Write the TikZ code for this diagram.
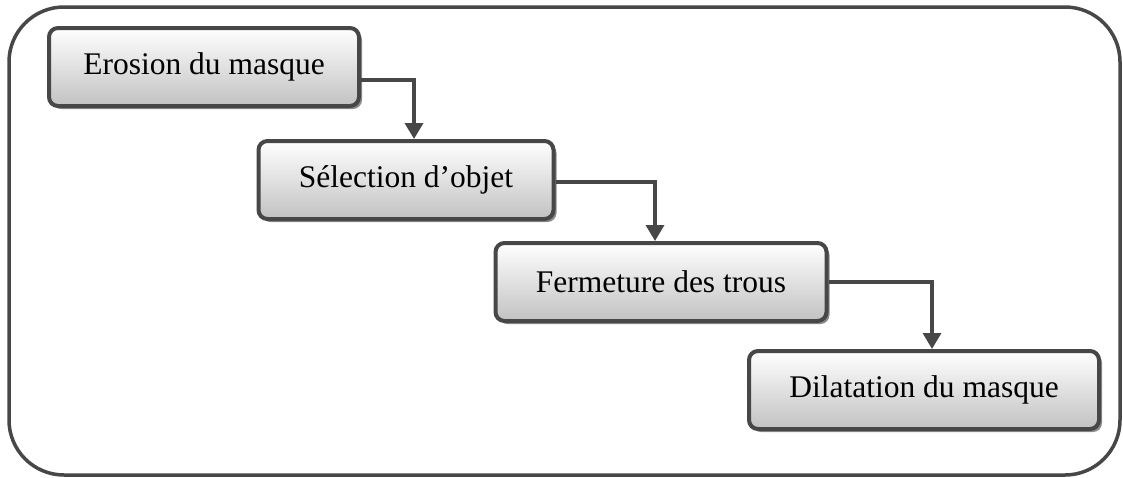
\documentclass[tikz,border=0pt]{standalone}
\usepackage{fontspec}
\setmainfont{Liberation Serif}
\usetikzlibrary{arrows.meta,shadows}

\begin{document}
\begin{tikzpicture}[x=1pt,y=-1pt,
    etape/.style={draw=black!72,line width=4pt,rounded corners=9pt,
        top color=white,bottom color=black!24,inner sep=0pt,
        minimum height=78pt,font=\fontsize{31.5}{36}\selectfont,
        drop shadow={shadow xshift=3pt,shadow yshift=-3pt,fill=black!45,opacity=1}},
    fleche/.style={draw=black!72,line width=3.5pt,-{Triangle[width=18pt,length=16pt]}}]
\useasboundingbox (0,0) rectangle (1123,477);
% cadre
\draw[black!72,line width=3.5pt,rounded corners=55pt] (9,7) rectangle (1120,475);
% etapes
\node[etape,minimum width=310pt] (ero) at (204,67) {Erosion du masque};
\node[etape,minimum width=295pt] (sel) at (406,180) {S\'election d'objet};
\node[etape,minimum width=331pt] (fer) at (661,282) {Fermeture des trous};
\node[etape,minimum width=350pt] (dil) at (924,390) {Dilatation du masque};
% liaisons
\draw[fleche] ([yshift=-13pt]ero.east) -| ([xshift=8pt]sel.north);
\draw[fleche] ([yshift=-2pt]sel.east) -| ([xshift=-6pt]fer.north);
\draw[fleche] (fer.east) -| ([xshift=8pt]dil.north);
\end{tikzpicture}
\end{document}
